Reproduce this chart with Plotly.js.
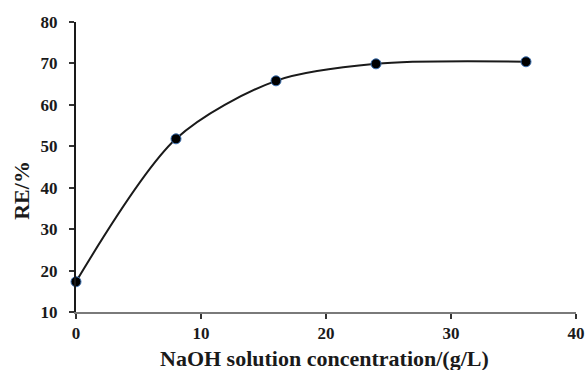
<!DOCTYPE html>
<html>
<head>
<meta charset="utf-8">
<script src="https://cdn.plot.ly/plotly-3.0.1.min.js"></script>
<style>html,body{margin:0;padding:0;background:#fff;}#chart{width:585px;height:370px;}</style>
</head>
<body>
<div id="chart"></div>
<script>
var concentration = [0, 8, 16, 24, 36];
var removalEfficiency = [17.3, 51.8, 65.8, 69.9, 70.4];
var xTitle = "NaOH solution concentration/(g/L)";
var yTitle = "RE/%";

var fam = "Liberation Serif, Times New Roman, serif";

Plotly.newPlot("chart", [{
  x: concentration,
  y: removalEfficiency,
  type: "scatter",
  mode: "lines+markers",
  line: {shape: "spline", smoothing: 0.85, color: "#1a1a1a", width: 2},
  marker: {size: 10, color: "#000000", line: {color: "#3a6fb0", width: 1}},
  cliponaxis: false,
  showlegend: false
}], {
  width: 585, height: 370,
  margin: {l: 76, r: 9, t: 22, b: 58},
  paper_bgcolor: "#ffffff", plot_bgcolor: "#ffffff",
  xaxis: {
    range: [0, 40], dtick: 10, tick0: 0,
    showgrid: false, zeroline: false,
    showline: true, linecolor: "#7a7a7a", linewidth: 2,
    ticks: "outside", ticklen: 5, tickwidth: 2, tickcolor: "#333",
    ticklabelstandoff: 0,
    tickfont: {family: fam, size: 17, color: "#1a1a1a", weight: "bold"}
  },
  yaxis: {
    range: [10, 80], dtick: 10, tick0: 10,
    showgrid: false, zeroline: false,
    showline: true, linecolor: "#1a1a1a", linewidth: 2,
    ticks: "outside", ticklen: 5, tickwidth: 2, tickcolor: "#333",
    ticklabelstandoff: 8,
    tickfont: {family: fam, size: 17, color: "#1a1a1a", weight: "bold"}
  },
  annotations: [
    {text: "<b>" + xTitle + "</b>", xref: "paper", yref: "paper", x: 0.497, y: -0.16,
     xanchor: "center", yanchor: "middle", showarrow: false,
     font: {family: fam, size: 22, color: "#1a1a1a"}},
    {text: "<b>" + yTitle + "</b>", xref: "paper", yref: "paper", x: -0.108, y: 0.418,
     xanchor: "center", yanchor: "middle", textangle: -90, showarrow: false,
     font: {family: fam, size: 22, color: "#1a1a1a"}}
  ]
}, {displayModeBar: false, staticPlot: true});
</script>
</body>
</html>
